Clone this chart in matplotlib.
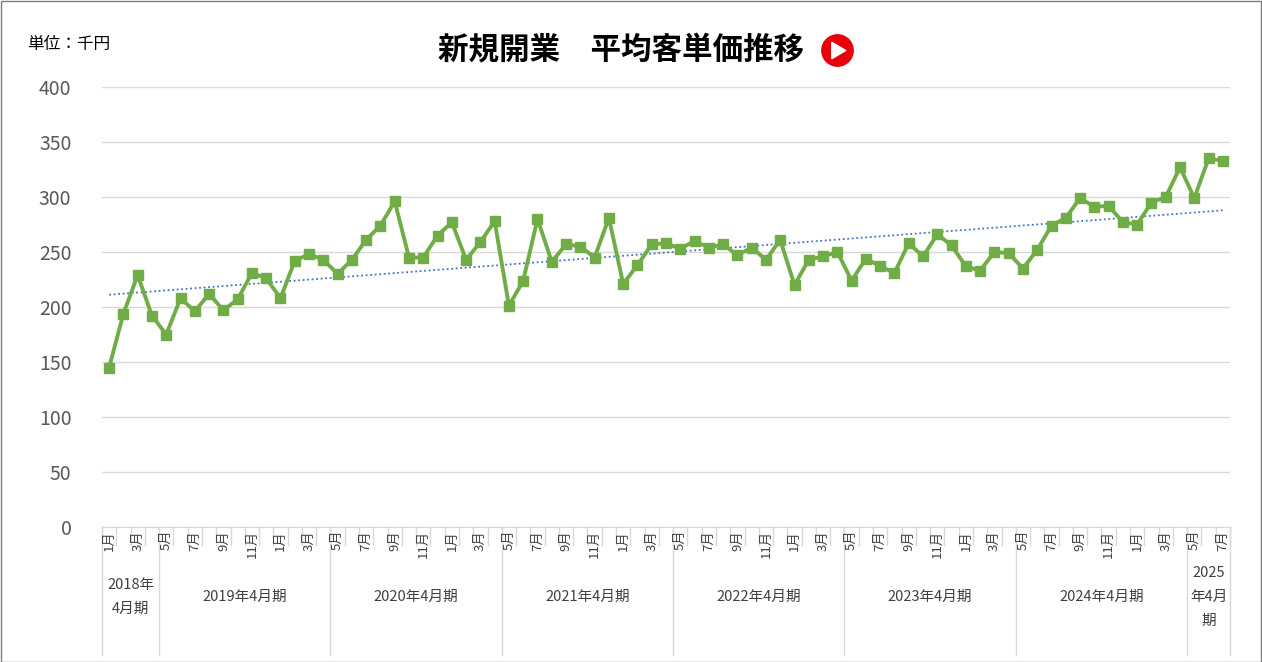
import numpy as np
import matplotlib
matplotlib.use("Agg")
import matplotlib.pyplot as plt
from matplotlib.transforms import blended_transform_factory
from matplotlib.patches import Circle, Polygon

plt.rcParams['font.family'] = 'Noto Sans CJK JP'

values = [145, 194, 229, 192,
          175, 208, 196, 212, 197, 207, 231, 226, 208, 242, 248, 243,
          230, 243, 261, 274, 296, 245, 245, 265, 277, 243, 259, 278,
          201, 224, 280, 241, 257, 255, 245, 281, 221, 238, 257, 258,
          253, 260, 254, 257, 247, 254, 243, 261, 220, 243, 246, 250,
          224, 244, 237, 231, 258, 246, 266, 256, 237, 233, 250, 249,
          235, 252, 274, 281, 299, 291, 292, 277, 275, 295, 300, 327,
          299, 335, 333]
months = [1, 2, 3, 4] + [5, 6, 7, 8, 9, 10, 11, 12, 1, 2, 3, 4] * 6 + [5, 6, 7]
groups = ["2018年\n4月期", "2019年4月期", "2020年4月期", "2021年4月期",
          "2022年4月期", "2023年4月期", "2024年4月期", "2025\n年4月\n期"]
group_sizes = [4, 12, 12, 12, 12, 12, 12, 3]
yticks = [0, 50, 100, 150, 200, 250, 300, 350, 400]

W, H = 1262, 662
fig = plt.figure(figsize=(W / 100, H / 100), dpi=100)
ax = fig.add_axes([102 / W, 1 - 527 / H, 1128 / W, 440 / H])

x = np.arange(len(values))
ax.plot(x, values, color='#70AD47', lw=2.8, marker='s', ms=6.5, zorder=3)
k, b = np.polyfit(x, values, 1)
ax.plot(x, k * x + b, color='#4472C4', lw=1.3, ls=(0, (1, 1.5)), zorder=2)

ax.set_xlim(-0.5, len(values) - 0.5)
ax.set_ylim(0, 400)
ax.set_yticks(yticks)
ax.set_yticklabels([str(t) for t in yticks], fontsize=14, color='#595959')
ax.tick_params(axis='y', length=0, pad=22)
ax.set_xticks([])
ax.grid(axis='y', color='#D9D9D9', lw=1)
ax.set_axisbelow(True)
for s in ['top', 'right', 'left']:
    ax.spines[s].set_visible(False)
ax.spines['bottom'].set_color('#D9D9D9')

tr = blended_transform_factory(ax.transData, ax.transAxes)
short = -18 / 440
long_ = -128 / 440
for i in range(len(values) + 1):
    ax.plot([i - 0.5, i - 0.5], [0, short], color='#D9D9D9', lw=1, transform=tr, clip_on=False)
for i, m in enumerate(months):
    if m % 2 == 1:
        ax.text(i, -3 / 440, f"{m}月", rotation=90, ha='center', va='top', fontsize=9.5,
                color='#404040', transform=tr)
start = 0
for g, n in zip(groups, group_sizes):
    ax.plot([start - 0.5, start - 0.5], [0, long_], color='#D9D9D9', lw=1, transform=tr, clip_on=False)
    c = start + n / 2 - 0.5
    ax.text(c, -70 / 440, g, ha='center', va='center', fontsize=10.5, color='#404040',
            transform=tr, linespacing=1.9)
    start += n
ax.plot([start - 0.5, start - 0.5], [0, long_], color='#D9D9D9', lw=1, transform=tr, clip_on=False)

fig.text(621 / W, 1 - 50 / H, "新規開業　平均客単価推移", ha='center', va='center',
         fontsize=22, fontweight='bold', color='black')
fig.text(27 / W, 1 - 44 / H, "単位：千円", ha='left', va='center', fontsize=12, color='black')

# play icon
icon = fig.add_axes([821 / W, 1 - 67 / H, 33 / W, 33 / H])
icon.set_xlim(-1, 1); icon.set_ylim(-1, 1); icon.set_aspect('equal'); icon.axis('off')
icon.add_patch(Circle((0, 0), 0.95, color='#E8000B'))
icon.add_patch(Polygon([[-0.35, -0.5], [-0.35, 0.5], [0.5, 0]], color='white'))

fig.patches.append(plt.Rectangle((0.5 / W, 0.5 / H), 1 - 1.5 / W, 1 - 1.5 / H, transform=fig.transFigure,
                                 fill=False, edgecolor='#7F7F7F', lw=1))
fig.savefig("out.png", dpi=100)
